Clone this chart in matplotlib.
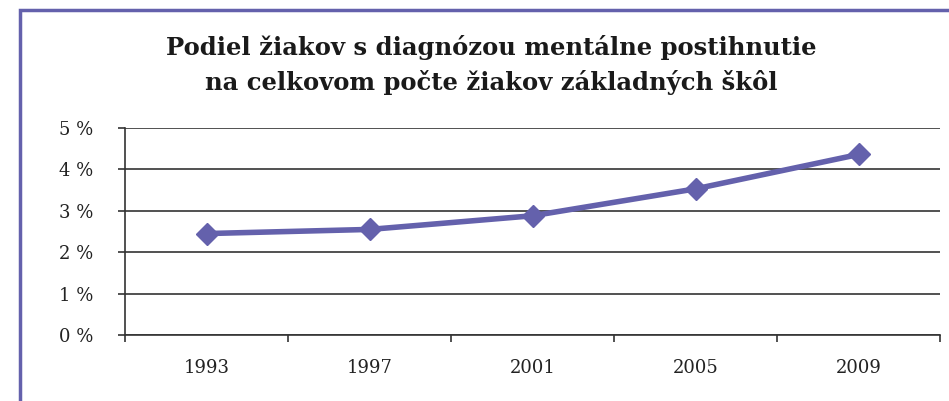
import matplotlib.pyplot as plt
from matplotlib.patches import Rectangle

years = ['1993', '1997', '2001', '2005', '2009']
share = [2.45, 2.55, 2.88, 3.53, 4.36]
yticks = [0, 1, 2, 3, 4, 5]
title = 'Podiel žiakov s diagnózou mentálne postihnutie\nna celkovom počte žiakov základných škôl'

purple = '#6461ac'
plt.rcParams['font.family'] = ['DejaVu Serif']

W, H = 949, 401
fig = plt.figure(figsize=(W / 100, H / 100), dpi=100)
ax = fig.add_axes([125 / W, 1 - 335 / H, 815 / W, 207 / H])

# frame round the chart (cut off on the right and at the bottom)
fig.patches.append(Rectangle((20 / W, -0.05), 1.2, 1 - 10 / H + 0.05,
                             transform=fig.transFigure, fill=False,
                             edgecolor=purple, linewidth=2.5, clip_on=False))

x = range(len(years))
ax.plot(x, share, color=purple, linewidth=4, marker='D', markersize=11,
        markeredgecolor=purple, markerfacecolor=purple, zorder=3)

ax.set_xlim(-0.5, len(years) - 0.5)
ax.set_ylim(0, 5)
ax.set_yticks(yticks)
ax.set_yticklabels(['%d %%' % t for t in yticks], fontsize=13, color='#222222')
ax.set_xticks([i - 0.5 for i in range(len(years) + 1)], minor=False)
ax.set_xticklabels([])
ax.set_xticks(list(x), minor=True)
ax.set_xticklabels(years, minor=True, fontsize=13, color='#222222')
ax.tick_params(axis='x', which='minor', length=0, pad=17)
ax.tick_params(axis='x', which='major', length=5, width=1.2, direction='out', color='#333333')
ax.tick_params(axis='y', length=5, width=1.2, direction='out', pad=18, color='#333333')

ax.yaxis.grid(True, color='#333333', linewidth=1.2)
ax.set_axisbelow(True)
for s in ['top', 'right']:
    ax.spines[s].set_visible(False)
for s in ['left', 'bottom']:
    ax.spines[s].set_color('#333333')
    ax.spines[s].set_linewidth(1.2)

fig.text(491 / W, 1 - 65 / H, title, ha='center', va='center', fontsize=17.5,
         fontweight='bold', color='#1a1a1a', linespacing=1.5)

fig.savefig('out.png', dpi=100)
